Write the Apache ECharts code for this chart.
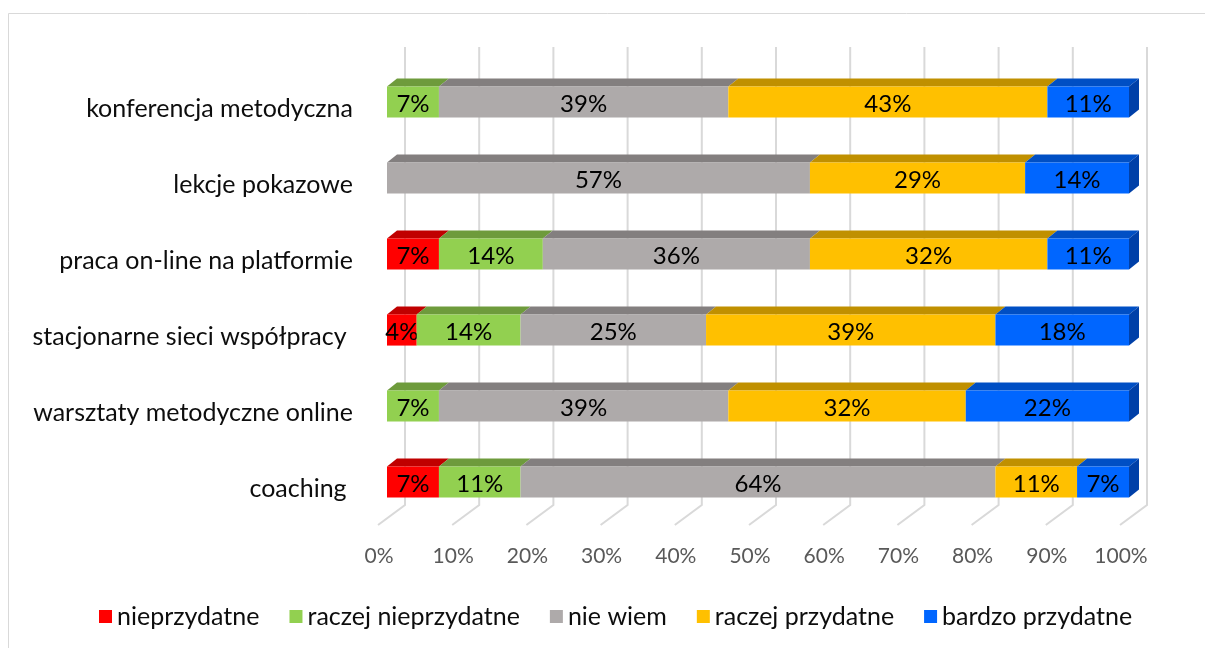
<!DOCTYPE html>
<html>
<head>
<meta charset="utf-8">
<script src="https://cdn.jsdelivr.net/npm/echarts@6/dist/echarts.min.js"></script>
<style>
html,body{margin:0;padding:0;background:#fff;}
#chart{width:1205px;height:648px;}
</style>
</head>
<body>
<div id="chart"></div>
<script>
// ---- data ----
const categories = [
  'konferencja metodyczna',
  'lekcje pokazowe',
  'praca on-line na platformie',
  'stacjonarne sieci współpracy ',
  'warsztaty metodyczne online',
  'coaching '
];
const seriesNames = ['nieprzydatne', 'raczej nieprzydatne', 'nie wiem', 'raczej przydatne', 'bardzo przydatne'];
const nieprzydatne        = [0, 0, 7, 4, 0, 7];
const raczejNieprzydatne  = [7, 0, 14, 14, 7, 11];
const nieWiem             = [39, 57, 36, 25, 39, 64];
const raczejPrzydatne     = [43, 29, 32, 39, 32, 11];
const bardzoPrzydatne     = [11, 14, 11, 18, 22, 7];
const xTicks = [0, 10, 20, 30, 40, 50, 60, 70, 80, 90, 100];

// ---- styles ----
const FONT = 'Lato';
const frontColors = ['#FF0000', '#92D050', '#AEAAAA', '#FFC000', '#0066FF'];
const topColors   = ['#C00000', '#6E9B3C', '#837F7F', '#C09000', '#004FC4'];
const sideColors  = ['#B00000', '#5F8A30', '#6F6C6C', '#A07800', '#0040A8'];
const DX = 10, DY = 8;

const allValues = [nieprzydatne, raczejNieprzydatne, nieWiem, raczejPrzydatne, bardzoPrzydatne];

function segData(si) {
  return categories.map((c, ci) => {
    let start = 0;
    for (let k = 0; k < si; k++) start += allValues[k][ci];
    const v = allValues[si][ci];
    let last = true;
    for (let k = si + 1; k < allValues.length; k++) if (allValues[k][ci] > 0) last = false;
    return [start, start + v, ci, v, last ? 1 : 0];
  });
}

function makeSeries(si) {
  return {
    name: seriesNames[si],
    type: 'custom',
    itemStyle: { color: frontColors[si] },
    data: segData(si),
    encode: { x: [0, 1], y: 2 },
    renderItem: function (params, api) {
      const v = api.value(3);
      if (!v) return null;
      const ci = api.value(2);
      const p0 = api.coord([api.value(0), ci]);
      const p1 = api.coord([api.value(1), ci]);
      const band = api.size([0, 1])[1];
      const h = band * 0.41;
      const x0 = p0[0], x1 = p1[0];
      const yT = p0[1] - h / 2, yB = p0[1] + h / 2;
      const children = [
        { type: 'polygon', shape: { points: [[x0, yT], [x0 + DX, yT - DY], [x1 + DX, yT - DY], [x1, yT]] },
          style: { fill: topColors[si] } },
        { type: 'rect', shape: { x: x0, y: yT, width: x1 - x0, height: yB - yT },
          style: { fill: frontColors[si] } }
      ];
      if (api.value(4)) {
        children.push({ type: 'polygon', shape: { points: [[x1, yT], [x1 + DX, yT - DY], [x1 + DX, yB - DY], [x1, yB]] },
          style: { fill: sideColors[si] } });
      }
      children.push({ type: 'text', x: (x0 + x1) / 2, y: p0[1] + 2,
        style: { text: v + '%', fill: '#000', font: '24px ' + FONT, align: 'center', verticalAlign: 'middle' } });
      return { type: 'group', children: children };
    },
    z: 3
  };
}

const gridSeries = {
  name: 'grid',
  type: 'custom',
  silent: true,
  data: xTicks.map(t => [t, 0]),
  encode: { x: 0, y: 1 },
  renderItem: function (params, api) {
    const cs = params.coordSys;
    const x = api.coord([api.value(0), 0])[0];
    const backTop = cs.y - 17, backBot = cs.y + cs.height - 15, front = cs.y + cs.height + 5;
    return {
      type: 'polyline',
      shape: { points: [[x + 18, backTop], [x + 18, backBot], [x - 9, front]] },
      style: { stroke: '#D9D9D9', lineWidth: 2, fill: null }
    };
  },
  z: 1
};

const chart = echarts.init(document.getElementById('chart'));
chart.setOption({
  animation: false,
  backgroundColor: '#fff',
  graphic: [{ type: 'rect', shape: { x: 8.5, y: 13.5, width: 1300, height: 700 },
    style: { fill: null, stroke: '#D9D9D9', lineWidth: 1 }, silent: true, z: 0 }],
  grid: { left: 387, right: 76, top: 64, bottom: 128, containLabel: false },
  xAxis: {
    type: 'value', min: 0, max: 100, interval: 10,
    axisLine: { show: false }, axisTick: { show: false }, splitLine: { show: false },
    axisLabel: { formatter: '{value}%', color: '#595959', fontFamily: FONT, fontSize: 21, margin: 26,
      padding: [0, 16, 0, 0] }
  },
  yAxis: {
    type: 'category', data: categories, inverse: true,
    axisLine: { show: false }, axisTick: { show: false }, splitLine: { show: false },
    axisLabel: {
      margin: 34,
      formatter: function (v) { return '{a|' + v + '}'; },
      rich: { a: { color: '#0D0D0D', fontFamily: FONT, fontSize: 25, padding: [14, 0, 0, 0] } }
    }
  },
  legend: {
    data: seriesNames,
    bottom: 14, left: 94,
    icon: 'rect', itemWidth: 13, itemHeight: 13, itemGap: 30,
    textStyle: { color: '#0D0D0D', fontFamily: FONT, fontSize: 25, padding: [0, 0, 0, 0] }
  },
  series: [gridSeries].concat(seriesNames.map((n, i) => makeSeries(i)))
});
</script>
</body>
</html>
